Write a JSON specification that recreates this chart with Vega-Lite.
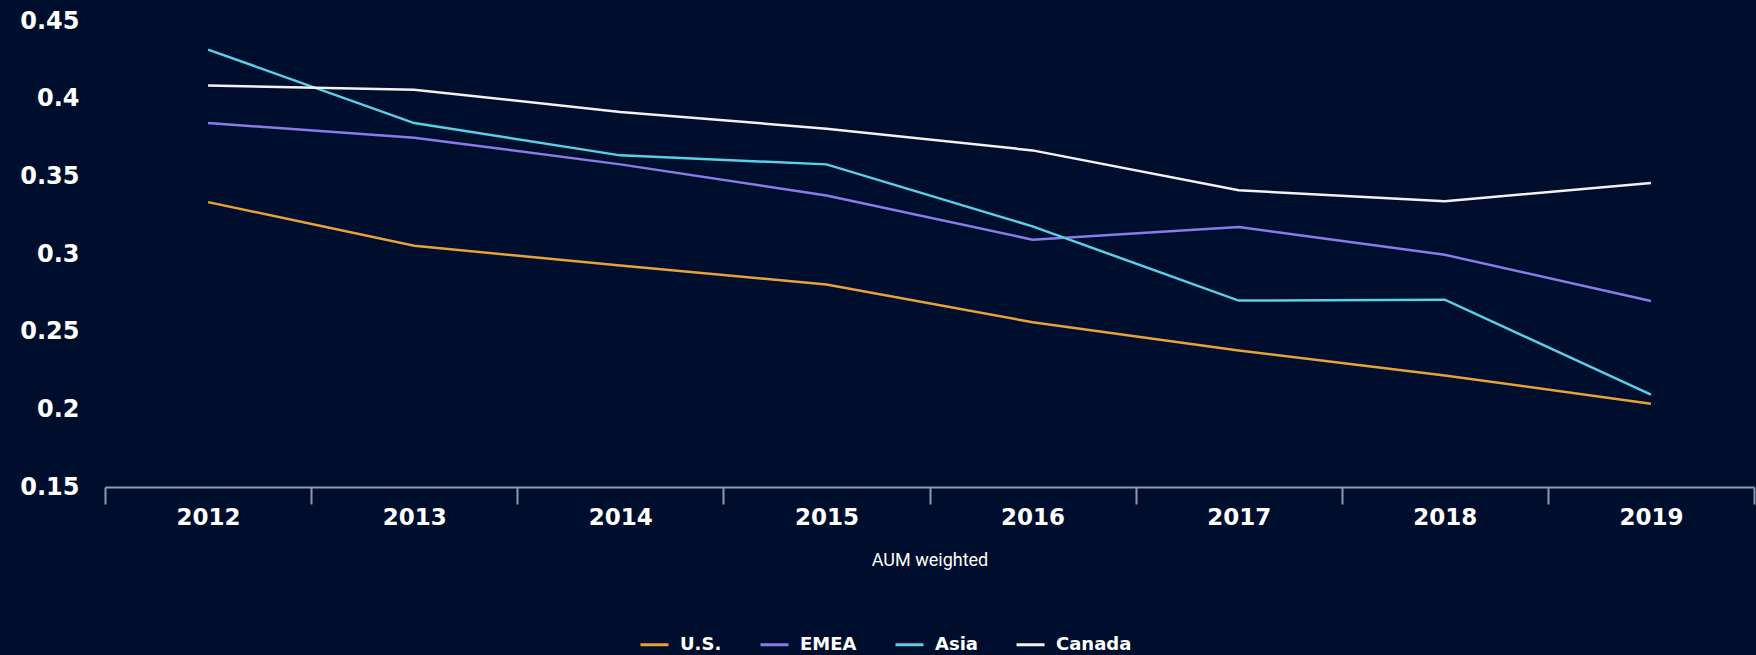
{
  "$schema": "https://vega.github.io/schema/vega-lite/v6.json",
  "width": 1649,
  "height": 466,
  "autosize": {"type": "none"},
  "padding": {"left": 105, "top": 21, "right": 2, "bottom": 168},
  "background": "#000E2D",
  "config": {"view": {"stroke": null}},
  "data": {
    "values": [
      {"year": "2012", "region": "U.S.", "value": 0.3334},
      {"year": "2013", "region": "U.S.", "value": 0.3053},
      {"year": "2014", "region": "U.S.", "value": 0.2926},
      {"year": "2015", "region": "U.S.", "value": 0.2804},
      {"year": "2016", "region": "U.S.", "value": 0.2561},
      {"year": "2017", "region": "U.S.", "value": 0.2379},
      {"year": "2018", "region": "U.S.", "value": 0.2218},
      {"year": "2019", "region": "U.S.", "value": 0.2036},
      {"year": "2012", "region": "EMEA", "value": 0.3843},
      {"year": "2013", "region": "EMEA", "value": 0.3749},
      {"year": "2014", "region": "EMEA", "value": 0.3577},
      {"year": "2015", "region": "EMEA", "value": 0.3377},
      {"year": "2016", "region": "EMEA", "value": 0.3092},
      {"year": "2017", "region": "EMEA", "value": 0.3173},
      {"year": "2018", "region": "EMEA", "value": 0.2995},
      {"year": "2019", "region": "EMEA", "value": 0.2697},
      {"year": "2012", "region": "Asia", "value": 0.4316},
      {"year": "2013", "region": "Asia", "value": 0.3843},
      {"year": "2014", "region": "Asia", "value": 0.3635},
      {"year": "2015", "region": "Asia", "value": 0.3577},
      {"year": "2016", "region": "Asia", "value": 0.3178},
      {"year": "2017", "region": "Asia", "value": 0.2700},
      {"year": "2018", "region": "Asia", "value": 0.2706},
      {"year": "2019", "region": "Asia", "value": 0.2094},
      {"year": "2012", "region": "Canada", "value": 0.4084},
      {"year": "2013", "region": "Canada", "value": 0.4058},
      {"year": "2014", "region": "Canada", "value": 0.3914},
      {"year": "2015", "region": "Canada", "value": 0.3807},
      {"year": "2016", "region": "Canada", "value": 0.3667},
      {"year": "2017", "region": "Canada", "value": 0.3410},
      {"year": "2018", "region": "Canada", "value": 0.3340},
      {"year": "2019", "region": "Canada", "value": 0.3457}
    ]
  },
  "mark": {"type": "line", "strokeWidth": 2.5, "interpolate": "linear"},
  "encoding": {
    "x": {
      "field": "year",
      "type": "ordinal",
      "bandPosition": 0.5,
      "scale": {"type": "band", "paddingInner": 0, "paddingOuter": 0},
      "axis": {
        "title": "AUM weighted",
        "titleFont": "Roboto",
        "titleFontSize": 18,
        "titleFontWeight": "normal",
        "titleColor": "#FFFFFF",
        "titlePadding": 22,
        "labelAngle": 0,
        "labelFont": "DejaVu Sans",
        "labelFontSize": 23,
        "labelFontWeight": "bold",
        "labelColor": "#FFFFFF",
        "labelPadding": 2,
        "tickBand": "extent",
        "tickSize": 17,
        "tickWidth": 2,
        "tickColor": "#8D9AAE",
        "domainColor": "#8D9AAE",
        "domainWidth": 2,
        "grid": false
      }
    },
    "y": {
      "field": "value",
      "type": "quantitative",
      "scale": {"domain": [0.15, 0.45], "nice": false, "zero": false},
      "axis": {
        "title": null,
        "values": [0.15, 0.2, 0.25, 0.3, 0.35, 0.4, 0.45],
        "format": ".2~f",
        "labelFont": "DejaVu Sans",
        "labelFontSize": 24,
        "labelFontWeight": "bold",
        "labelColor": "#FFFFFF",
        "labelPadding": 26,
        "ticks": false,
        "domain": false,
        "grid": false
      }
    },
    "color": {
      "field": "region",
      "type": "nominal",
      "sort": ["U.S.", "EMEA", "Asia", "Canada"],
      "scale": {
        "domain": ["U.S.", "EMEA", "Asia", "Canada"],
        "range": ["#E8A23A", "#8B7BEA", "#5AD0E8", "#F2F2F2"]
      },
      "legend": {
        "title": null,
        "orient": "none",
        "direction": "horizontal",
        "legendX": 534,
        "legendY": 608,
        "symbolType": "stroke",
        "symbolStrokeWidth": 3,
        "symbolSize": 784,
        "labelFont": "DejaVu Sans",
        "labelFontSize": 18,
        "labelFontWeight": "bold",
        "labelColor": "#FFFFFF",
        "labelOffset": 10,
        "columnPadding": 32
      }
    }
  }
}
